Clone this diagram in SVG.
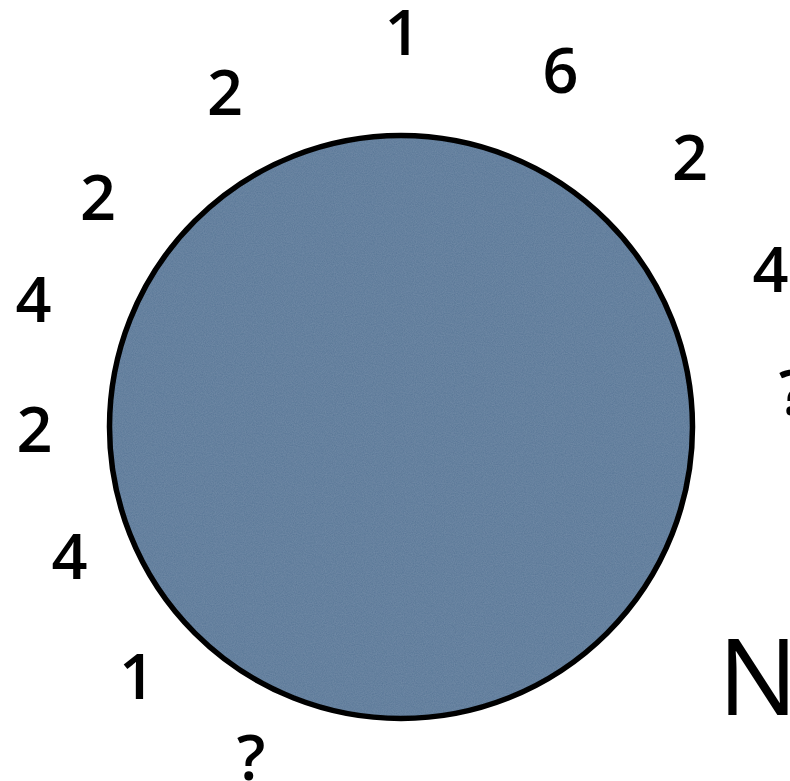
<svg xmlns="http://www.w3.org/2000/svg" width="790" height="781" viewBox="0 0 790 781">
<style>
.lbl{font-family:"Open Sans","Lato","DejaVu Sans",sans-serif;font-size:63px;font-weight:600;fill:#000;text-anchor:middle}
.big{font-family:"Open Sans","Lato","DejaVu Sans",sans-serif;font-size:106px;fill:#000}
</style>
<defs>
<filter id="grain" x="0" y="0" width="100%" height="100%">
<feTurbulence type="fractalNoise" baseFrequency="0.9" numOctaves="2" seed="3" result="n"/>
<feColorMatrix in="n" type="matrix" values="0 0 0 0 0.33  0 0 0 0 0.45  0 0 0 0 0.58  0 0 0 0.3 0" result="c"/>
<feComposite in="c" in2="SourceGraphic" operator="in" result="m"/>
<feMerge><feMergeNode in="SourceGraphic"/><feMergeNode in="m"/></feMerge>
</filter>
</defs>
<rect width="790" height="781" fill="#fff"/>
<g id="disc">
<circle cx="401" cy="427" r="291.5" fill="#587696" filter="url(#grain)"/>
<circle cx="401" cy="427" r="291.5" fill="none" stroke="#000" stroke-width="5.5"/>
</g>
<g id="connectors"/>
<g id="label-top-1"><text class="lbl" x="402.5" y="55">1</text></g>
<g id="label-6"><text class="lbl" x="560.5" y="93">6</text></g>
<g id="label-2-topleft"><text class="lbl" x="225" y="115">2</text></g>
<g id="label-2-right"><text class="lbl" x="690" y="180">2</text></g>
<g id="label-2-left-upper"><text class="lbl" x="98" y="220">2</text></g>
<g id="label-4-right"><text class="lbl" x="770.5" y="292">4</text></g>
<g id="label-4-left-upper"><text class="lbl" x="33.5" y="322">4</text></g>
<g id="label-q-right"><text class="lbl" x="793" y="415">?</text></g>
<g id="label-2-left-lower"><text class="lbl" x="34.5" y="452">2</text></g>
<g id="label-4-left-lower"><text class="lbl" x="69.5" y="579">4</text></g>
<g id="label-1-lower"><text class="lbl" x="137" y="699">1</text></g>
<g id="label-q-bottom"><text class="lbl" x="251" y="780">?</text></g>
<g id="label-N"><text class="big" x="718" y="715">N</text></g>
</svg>
